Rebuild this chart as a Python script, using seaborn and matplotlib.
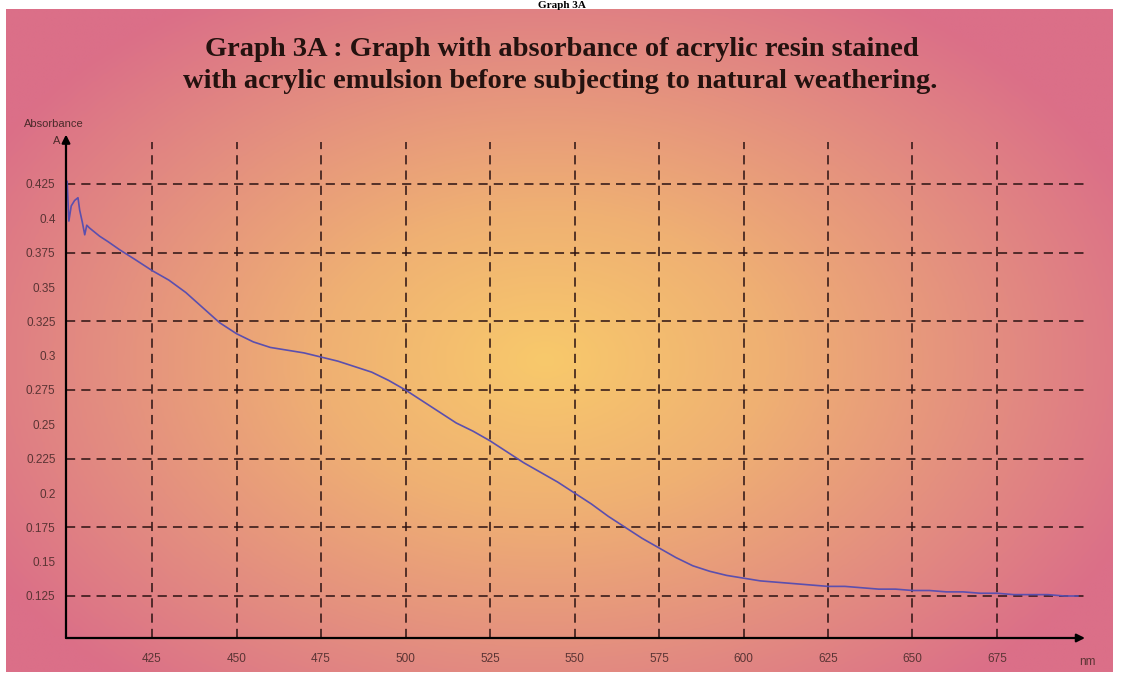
import numpy as np
import matplotlib
matplotlib.use("Agg")
import matplotlib.pyplot as plt
from matplotlib.colors import LinearSegmentedColormap
import seaborn as sns

# ---- data ----
wavelength = [399.9, 400.4, 401.1, 402.1, 403.1, 403.6, 404.4, 405.1, 405.7, 406.5, 408.0,
              409.5, 412.0, 415.5, 420.0, 425.0, 430.0, 435.0, 440.0, 445.0, 450.0,
              455.0, 460.0, 465.0, 470.0, 475.0, 480.0, 485.0, 490.0, 495.0, 500.0,
              505.0, 510.0, 515.0, 520.0, 525.0, 530.0, 535.0, 540.0, 545.0, 550.0,
              555.0, 560.0, 565.0, 570.0, 575.0, 580.0, 585.0, 590.0, 595.0, 600.0,
              605.0, 610.0, 615.0, 620.0, 625.0, 630.0, 635.0, 640.0, 645.0, 650.0,
              655.0, 660.0, 665.0, 670.0, 675.0, 680.0, 685.0, 690.0, 695.0, 699.0]
absorbance = [0.427, 0.398, 0.409, 0.413, 0.415, 0.406, 0.397, 0.388, 0.395, 0.393, 0.390,
              0.387, 0.383, 0.377, 0.370, 0.362, 0.355, 0.346, 0.335, 0.324, 0.316,
              0.310, 0.306, 0.304, 0.302, 0.299, 0.296, 0.292, 0.288, 0.282, 0.275,
              0.267, 0.259, 0.251, 0.245, 0.238, 0.230, 0.222, 0.215, 0.208, 0.200,
              0.192, 0.183, 0.175, 0.167, 0.160, 0.153, 0.147, 0.143, 0.140, 0.138,
              0.136, 0.135, 0.134, 0.133, 0.132, 0.132, 0.131, 0.130, 0.130, 0.129,
              0.129, 0.128, 0.128, 0.127, 0.127, 0.126, 0.126, 0.126, 0.125, 0.125]
x_ticks = [425, 450, 475, 500, 525, 550, 575, 600, 625, 650, 675]
y_ticks = [0.125, 0.15, 0.175, 0.2, 0.225, 0.25, 0.275, 0.3, 0.325, 0.35, 0.375, 0.4, 0.425]
y_tick_labels = ["0.125", "0.15", "0.175", "0.2", "0.225", "0.25", "0.275", "0.3",
                 "0.325", "0.35", "0.375", "0.4", "0.425"]
y_grid = [0.125, 0.175, 0.225, 0.275, 0.325, 0.375, 0.425]
header = "Graph 3A"
title_line1 = "Graph 3A : Graph with absorbance of acrylic resin stained"
title_line2 = "with acrylic emulsion before subjecting to natural weathering."

sns.set_style("white")
plt.rcParams["font.family"] = ["Liberation Sans", "DejaVu Sans"]

W, H = 1121, 682
fig = plt.figure(figsize=(W / 100, H / 100), dpi=100, facecolor="white")

# background gradient panel
bx0, by0, bx1, by1 = 6, 9, 1113, 672
bg = fig.add_axes([bx0 / W, 1 - by1 / H, (bx1 - bx0) / W, (by1 - by0) / H])
gx = np.linspace(bx0, bx1, 400)
gy = np.linspace(by0, by1, 250)
GX, GY = np.meshgrid(gx, gy)
t = np.sqrt(((GX - 545) / 640) ** 2 + ((GY - 360) / 430) ** 2)
cmap = LinearSegmentedColormap.from_list(
    "bg", [(0, "#f8c96b"), (0.35, "#efb073"), (0.7, "#e38d80"), (1.0, "#db6f88")])
bg.imshow(np.clip(t, 0, 1), cmap=cmap, vmin=0, vmax=1, aspect="auto",
          extent=[0, 1, 0, 1], origin="upper", interpolation="bilinear")
bg.set_axis_off()

# header above the panel
fig.text(562 / W, 1 - 0.5 / H, header, ha="center", va="top",
         fontsize=8, fontweight="bold", family="Liberation Serif", color="black",
         zorder=10)

# title (two lines)
title_kw = dict(ha="center", va="center", fontsize=20.5, fontweight="bold",
                family="Liberation Serif", color="#24120f")
fig.text(562 / W, 1 - 50 / H, title_line1, **title_kw)
fig.text(560 / W, 1 - 81 / H, title_line2, **title_kw)

# main axes
ax_l, ax_r, ax_b, ax_t = 66, 1085, 638, 142
ax = fig.add_axes([ax_l / W, 1 - ax_b / H, (ax_r - ax_l) / W, (ax_b - ax_t) / H])
ax.patch.set_alpha(0)
xlim = (425 - (152 - ax_l) / 3.38, 425 + (ax_r - 152) / 3.38)
ppu = (596 - 184) / 0.3
ylim = (0.125 - (ax_b - 596) / ppu, 0.425 + (184 - ax_t) / ppu)
ax.set_xlim(*xlim)
ax.set_ylim(*ylim)

sns.lineplot(x=wavelength, y=absorbance, ax=ax, color="#5b4fae", linewidth=1.2, zorder=5)

grid_kw = dict(color="#2b1212", linewidth=1.1, linestyle=(0, (6, 4)), zorder=2)
for v in x_ticks:
    ax.axvline(v, **grid_kw)
for v in y_grid:
    ax.axhline(v, **grid_kw)

for s in ["top", "right", "left", "bottom"]:
    ax.spines[s].set_visible(False)
ax.annotate("", xy=(0, 1.015), xytext=(0, 0), xycoords="axes fraction",
            arrowprops=dict(arrowstyle="-|>", color="black", lw=1.6,
                            mutation_scale=12, shrinkA=0, shrinkB=0), zorder=6)
ax.annotate("", xy=(1.0, 0), xytext=(0, 0), xycoords="axes fraction",
            arrowprops=dict(arrowstyle="-|>", color="black", lw=1.6,
                            mutation_scale=12, shrinkA=0, shrinkB=0), zorder=6)

ax.set_xticks(x_ticks)
ax.set_xticklabels([str(v) for v in x_ticks])
ax.set_yticks(y_ticks)
ax.set_yticklabels(y_tick_labels)
ax.tick_params(axis="both", direction="inout", length=9, width=1.2, colors="black",
               labelcolor="#5a3434", labelsize=8.5)
ax.tick_params(axis="x", pad=6)
ax.tick_params(axis="y", pad=3)
ax.set_xlabel("")
ax.set_ylabel("")

fig.text(24 / W, 1 - 124 / H, "Absorbance", fontsize=8, color="#4a2a2a",
         ha="left", va="center")
fig.text(53 / W, 1 - 141 / H, "A", fontsize=8, color="#4a2a2a", ha="left", va="center")
fig.text(1087 / W, 1 - 662 / H, "nm", fontsize=8.5, color="#5a3434", ha="center",
         va="center")

fig.savefig("out.png", dpi=100, facecolor="white")
